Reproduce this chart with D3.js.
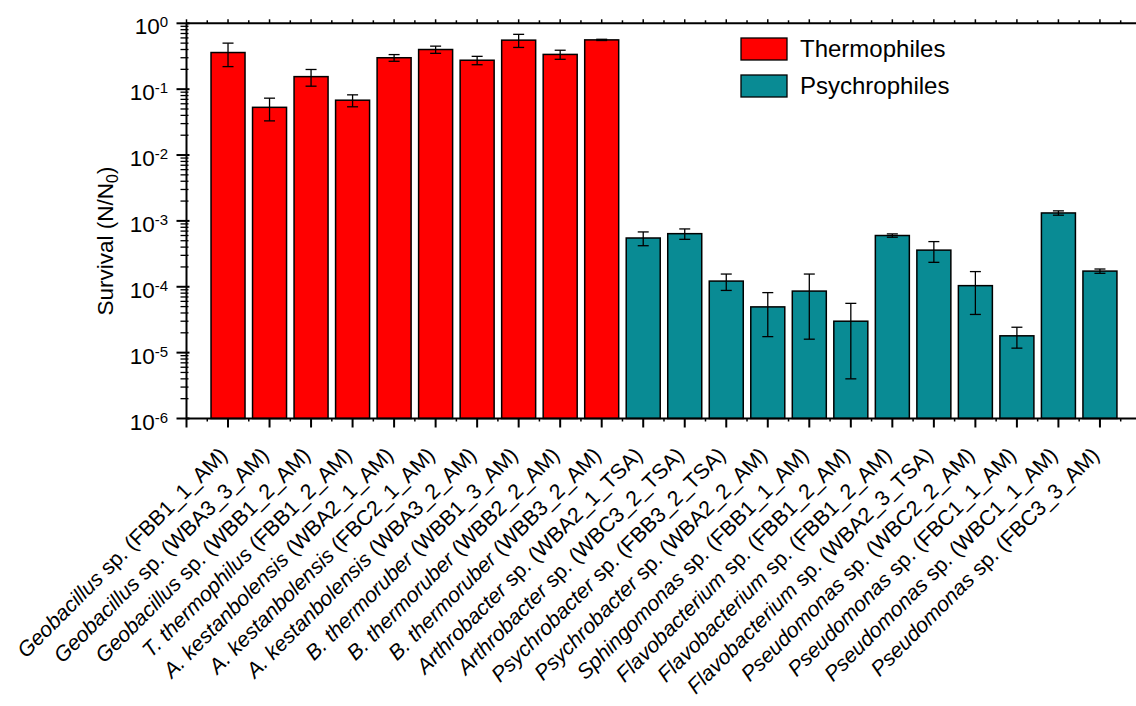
<!DOCTYPE html>
<html><head><meta charset="utf-8">
<script src="https://cdn.jsdelivr.net/npm/d3@7"></script>
<style>body{margin:0;background:#fff}svg{display:block}text{font-family:"Liberation Sans",Arial,sans-serif;fill:#000}</style>
</head><body><svg id="c" width="1136" height="706"></svg>
<script>
const genus = ["Geobacillus","Geobacillus","Geobacillus","T. thermophilus","A. kestanbolensis","A. kestanbolensis","A. kestanbolensis","B.  thermoruber","B.  thermoruber","B.  thermoruber",
  "Arthrobacter","Arthrobacter","Psychrobacter","Psychrobacter","Sphingomonas","Flavobacterium","Flavobacterium","Flavobacterium","Pseudomonas","Pseudomonas","Pseudomonas","Pseudomonas"];
const suffix = [" sp. (FBB1_1_AM)"," sp. (WBA3_3_AM)"," sp. (WBB1_2_AM)"," (FBB1_2_AM)"," (WBA2_1_AM)"," (FBC2_1_AM)"," (WBA3_2_AM)"," (WBB1_3_AM)"," (WBB2_2_AM)"," (WBB3_2_AM)",
  " sp. (WBA2_1_TSA)"," sp. (WBC3_2_TSA)"," sp. (FBB3_2_TSA)"," sp. (WBA2_2_AM)"," sp. (FBB1_1_AM)"," sp. (FBB1_2_AM)"," sp. (FBB1_2_AM)"," sp. (WBA2_3_TSA)"," sp. (WBC2_2_AM)"," sp. (FBC1_1_AM)"," sp. (WBC1_1_AM)"," sp. (FBC3_3_AM)"];
const group = ["T","T","T","T","T","T","T","T","T","T","P","P","P","P","P","P","P","P","P","P","P","P"];
const survival = [0.36,0.053,0.155,0.068,0.30,0.40,0.275,0.555,0.337,0.56,
  5.5e-4,6.4e-4,1.22e-4,4.95e-5,8.6e-5,3.0e-5,6.0e-4,3.6e-4,1.04e-4,1.8e-5,1.32e-3,1.73e-4];
const sd = [0.14,0.020,0.044,0.014,0.035,0.05,0.04,0.125,0.053,0.012,
  1.3e-4,1.15e-4,3.4e-5,3.2e-5,7.0e-5,2.6e-5,3.5e-5,1.25e-4,6.6e-5,6.3e-6,1.0e-4,1.3e-5];
const yTickExp = [0,-1,-2,-3,-4,-5,-6];
const legendNames = ["Thermophiles","Psychrophiles"];
const colors = {T:"#ff0000", P:"#098b94"};

const svg = d3.select("#c");
const pL = 186.5, pT = 23.3, pB = 418.5, step = 41.52;
const x = d3.scaleLinear().domain([-1, 22]).range([pL, pL + 23*step]);
const y = d3.scaleLog().domain([1e-6, 1]).range([pB, pT]);
const bw = 34;

// bars
svg.append("g").selectAll("rect").data(survival).join("rect")
  .attr("x", (d,i)=>x(i)-bw/2).attr("width", bw)
  .attr("y", d=>y(d)).attr("height", d=>pB - y(d))
  .attr("fill", (d,i)=>colors[group[i]]).attr("stroke","#000").attr("stroke-width",1.5);

// error bars
const eb = svg.append("g").attr("stroke","#000").attr("stroke-width",1.3);
survival.forEach((v,i)=>{
  const hi = y(v+sd[i]), lo = y(Math.max(v-sd[i], 1e-7));
  eb.append("line").attr("x1",x(i)).attr("x2",x(i)).attr("y1",hi).attr("y2",lo);
  eb.append("line").attr("x1",x(i)-5.5).attr("x2",x(i)+5.5).attr("y1",hi).attr("y2",hi);
  eb.append("line").attr("x1",x(i)-5.5).attr("x2",x(i)+5.5).attr("y1",lo).attr("y2",lo);
});

// axes lines
const ax = svg.append("g").attr("stroke","#000");
ax.append("line").attr("x1",pL).attr("x2",1136).attr("y1",pB).attr("y2",pB).attr("stroke-width",2);
ax.append("line").attr("x1",pL).attr("x2",1136).attr("y1",pT).attr("y2",pT).attr("stroke-width",2);
ax.append("line").attr("x1",pL).attr("x2",pL).attr("y1",pT).attr("y2",pB).attr("stroke-width",2);
// x ticks
d3.range(-1, 23).forEach(i=>{
  ax.append("line").attr("x1",x(i)).attr("x2",x(i)).attr("y1",pB).attr("y2",pB+9).attr("stroke-width",2);
  ax.append("line").attr("x1",x(i)).attr("x2",x(i)).attr("y1",pT).attr("y2",pT-4).attr("stroke-width",1.5);
  ax.append("line").attr("x1",x(i+0.5)).attr("x2",x(i+0.5)).attr("y1",pB).attr("y2",pB+3).attr("stroke-width",1.5);
  ax.append("line").attr("x1",x(i+0.5)).attr("x2",x(i+0.5)).attr("y1",pT).attr("y2",pT-3).attr("stroke-width",1.5);
});
// y ticks
yTickExp.forEach(e=>{
  ax.append("line").attr("x1",pL-10).attr("x2",pL+3).attr("y1",y(Math.pow(10,e))).attr("y2",y(Math.pow(10,e))).attr("stroke-width",2);
  if (e > -6) d3.range(2,10).forEach(m=>{
    const v = m*Math.pow(10,e-1);
    ax.append("line").attr("x1",pL-6).attr("x2",pL+2).attr("y1",y(v)).attr("y2",y(v)).attr("stroke-width",1.3);
  });
  const t = svg.append("text").attr("x",168).attr("y",y(Math.pow(10,e))+11).attr("text-anchor","end").attr("font-size",22.5);
  t.append("tspan").text("10");
  t.append("tspan").attr("dy",-7).attr("font-size",15).text(e===0?"0":"-"+(-e));
});

// y title
const yt = svg.append("text").attr("transform","translate(113,241) rotate(-90)").attr("text-anchor","middle").attr("font-size",22.5);
yt.append("tspan").text("Survival (N/N");
yt.append("tspan").attr("dy",5).attr("font-size",16).text("0");
yt.append("tspan").attr("dy",-5).text(")");

// x labels: placed so that each rotated label's box ends just right of its tick, below the axis
survival.forEach((v,i)=>{
  const g = svg.append("g");
  const t = g.append("text").attr("transform","rotate(-45)").attr("text-anchor","end").attr("font-size",21.3);
  t.append("tspan").attr("font-style","italic").text(genus[i]);
  t.append("tspan").text(suffix[i]);
  const b = g.node().getBBox();
  g.attr("transform", `translate(${x(i)+4-(b.x+b.width)},${443-b.y})`);
});

// legend
legendNames.forEach((n,k)=>{
  const ly = 38 + k*37;
  svg.append("rect").attr("x",741).attr("y",ly).attr("width",46).attr("height",22)
    .attr("fill", k===0?colors.T:colors.P).attr("stroke","#000").attr("stroke-width",1.3);
  svg.append("text").attr("x",800).attr("y",ly+19).attr("font-size",24).text(n);
});
</script></body></html>
